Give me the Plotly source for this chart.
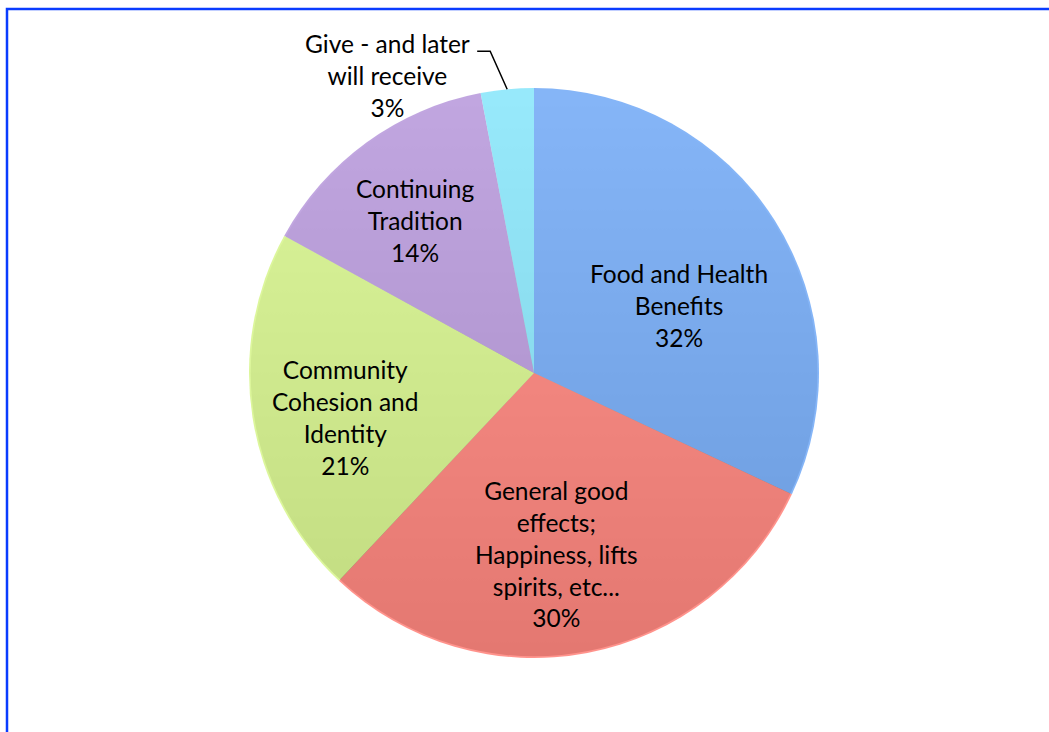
import base64
import math
import plotly.graph_objects as go

# ---- data -------------------------------------------------------------
categories = [
    "Food and Health<br>Benefits",
    "General good<br>effects;<br>Happiness, lifts<br>spirits, etc...",
    "Community<br>Cohesion and<br>Identity",
    "Continuing<br>Tradition",
    "Give - and later<br>will receive",
]
shares = [32, 30, 21, 14, 3]

# ---- style ------------------------------------------------------------
slice_colors = [
    "rgba(112,168,246,0.85)",
    "rgba(255,128,120,0.85)",
    "rgba(214,245,138,0.85)",
    "rgba(182,150,218,0.85)",
    "rgba(133,229,250,0.85)",
]
# inside labels: angular nudge (deg) and radius fraction
label_shift = [7.4, 3.6, -4.4, -2.0, 0.0]
label_radius = [0.56, 0.64, 0.68, 0.68, None]
FONT = "Lato"
FSIZE = 24.5

W, H = 1049, 732
CX, CY, R = 534, 373, 285  # pie centre and radius in pixels


def px(x, y):
    """Pixel position (from top-left) to paper coordinates."""
    return x / W, 1 - y / H


fig = go.Figure()
fig.add_trace(go.Pie(
    labels=categories,
    values=shares,
    sort=False,
    direction="clockwise",
    rotation=0,
    marker=dict(colors=slice_colors, line=dict(width=0)),
    textinfo="none",
    hoverinfo="label+percent",
    showlegend=False,
    domain=dict(x=[(CX - R) / W, (CX + R) / W],
                y=[1 - (CY + R) / H, 1 - (CY - R) / H]),
))

# vertical shading behind the translucent slices
svg = (
    '<svg xmlns="http://www.w3.org/2000/svg" width="200" height="200" '
    'viewBox="0 0 200 200" preserveAspectRatio="none">'
    '<defs><linearGradient id="g" x1="0" y1="0" x2="0" y2="1">'
    '<stop offset="0" stop-color="#ffffff"/>'
    '<stop offset="1" stop-color="#4a4a4a"/></linearGradient></defs>'
    '<circle cx="100" cy="100" r="99.4" fill="url(#g)"/></svg>'
)
src = "data:image/svg+xml;base64," + base64.b64encode(svg.encode()).decode()
x0, y0 = px(CX - R, CY - R)
fig.add_layout_image(dict(
    source=src, xref="paper", yref="paper", x=x0, y=y0,
    sizex=2 * R / W, sizey=2 * R / H, xanchor="left", yanchor="top",
    sizing="stretch", layer="below",
))

# ---- labels -----------------------------------------------------------
total = sum(shares)
annotations = []
cum = 0.0
for i, (name, v) in enumerate(zip(categories, shares)):
    mid = (cum + v / 2) / total * 360.0
    cum += v
    text = f"{name}<br>{round(v / total * 100)}%"
    if label_radius[i] is not None:
        a = math.radians(mid + label_shift[i])
        rr = label_radius[i] * R
        lx, ly = CX + rr * math.sin(a), CY - rr * math.cos(a)
        ax_, ay_ = px(lx, ly)
        annotations.append(dict(
            x=ax_, y=ay_, xref="paper", yref="paper", text=text,
            showarrow=False, xanchor="center", yanchor="middle",
            font=dict(family=FONT, size=FSIZE, color="black"),
        ))
    else:
        # outside label with an elbow leader line to the slice edge
        a = math.radians(mid)
        ex, ey = CX + R * math.sin(a), CY - R * math.cos(a)
        bx, by = ex - 17, ey - 38
        sx, sy = bx - 13, by
        pts = [px(ex, ey), px(bx, by), px(sx, sy)]
        path = "M {} {} L {} {} L {} {}".format(*[c for p in pts for c in p])
        fig.add_shape(type="path", path=path, xref="paper", yref="paper",
                      line=dict(color="black", width=1.5))
        tx, ty = px(sx - 90, sy + 24)
        annotations.append(dict(
            x=tx, y=ty, xref="paper", yref="paper", text=text,
            showarrow=False, xanchor="center", yanchor="middle",
            font=dict(family=FONT, size=FSIZE, color="black"),
        ))

# frame
fx0, fy0 = px(7, 9)
fig.add_shape(type="rect", xref="paper", yref="paper",
              x0=fx0, y0=fy0, x1=1.02, y1=-0.02,
              line=dict(color="#0a3cff", width=2.5), fillcolor="rgba(0,0,0,0)")

fig.update_layout(
    width=W, height=H,
    margin=dict(l=0, r=0, t=0, b=0),
    paper_bgcolor="white",
    annotations=annotations,
    font=dict(family=FONT),
)

fig.write_html("out.html")
